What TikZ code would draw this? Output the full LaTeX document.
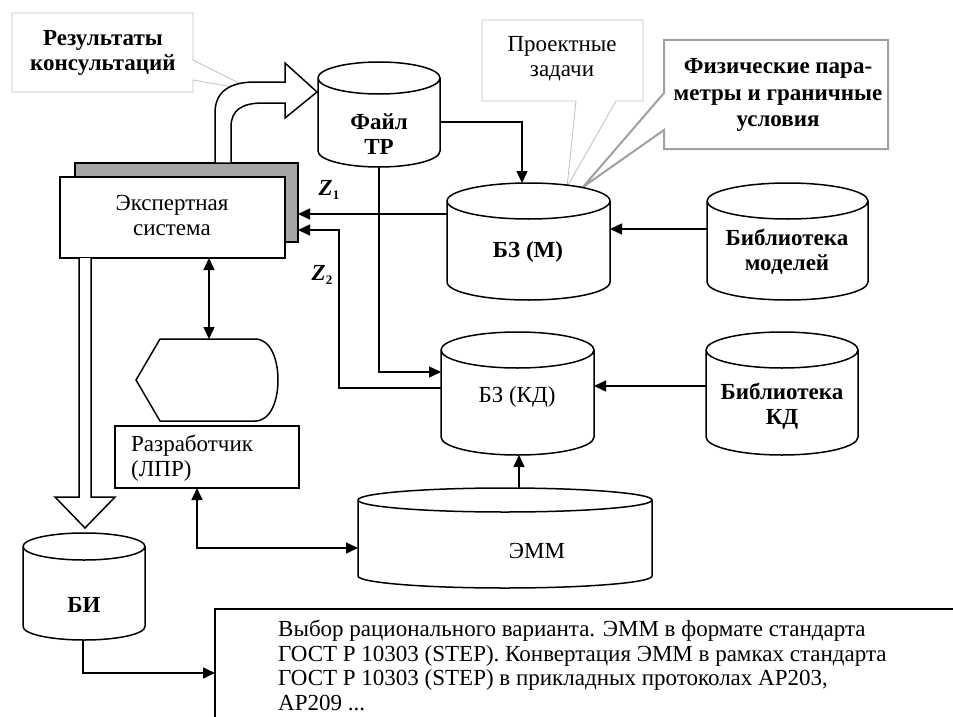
\documentclass[tikz,border=0pt]{standalone}
\usepackage{fontspec}
\setmainfont{Liberation Serif}
\usetikzlibrary{arrows.meta,calc}
\definecolor{shadowgray}{HTML}{A6A6A6}
\definecolor{calloutgray}{HTML}{BFBFBF}
\definecolor{calloutdark}{HTML}{A0A0A0}
\tikzset{
  ln/.style={line width=1.5pt},
  arr/.style={ln,-{Triangle[length=12pt,width=11pt]}},
  darr/.style={ln,{Triangle[length=12pt,width=11pt]}-{Triangle[length=12pt,width=11pt]}},
  region/.style={rectangle,inner sep=0pt,outer sep=0pt},
  f/.style={font=\fontsize{23}{25}\selectfont,align=center,inner sep=0pt},
  fb/.style={font=\fontsize{23}{25}\selectfont\bfseries,align=center,inner sep=0pt},
  ftxt/.style={font=\fontsize{23}{24.5}\selectfont,align=left,inner sep=0pt},
  cylline/.style={ln,fill=white},
  boxline/.style={ln,draw,fill=white,rectangle,inner sep=0pt,outer sep=0pt},
}
\newcommand\drawcyl[2]{%
  \draw[cylline] let \p1=(#1.north west), \p2=(#1.south east), \n1={(\x2-\x1)/2} in
    (\x1,{\y1-#2}) -- (\x1,{\y2+#2})
    arc[start angle=180,end angle=360,x radius=\n1,y radius=#2]
    -- (\x2,{\y1-#2})
    arc[start angle=0,end angle=360,x radius=\n1,y radius=#2];}
\begin{document}
\begin{tikzpicture}[x=1pt,y=-1pt]
\useasboundingbox (0,0) rectangle (953,717);

% helper coordinates
\coordinate (y122) at (0,122);
\coordinate (y214) at (0,214);
\coordinate (y229) at (0,229);
\coordinate (y230) at (0,230);
\coordinate (y372) at (0,372);
\coordinate (y386) at (0,386);
\coordinate (y388) at (0,388);
\coordinate (y548) at (0,548);
\coordinate (y673) at (0,673);
\coordinate (x83) at (83,0);
\coordinate (x197) at (197,0);
\coordinate (x209) at (209,0);
\coordinate (x339) at (339,0);
\coordinate (x519) at (519,0);
\coordinate (x522) at (522,0);

% callouts
\draw[calloutgray,line width=0.8pt,fill=white]
  (12,13) -- (193,13) -- (193,60) -- (255,91) -- (193,80) -- (193,92) -- (12,92) -- cycle;
\node[fb] (c1) at (103,53) {Результаты\\консультаций};

\draw[calloutgray,line width=0.8pt,fill=white]
  (482,20) -- (643,20) -- (643,101) -- (616,101) -- (567,187) -- (576,101) -- (482,101) -- cycle;
\node[f] (c2) at (562,59) {Проектные\\задачи};

\draw[calloutdark,line width=2pt,fill=white]
  (664,40) -- (888,40) -- (888,149) -- (664,149) -- (664,130) -- (583,187) -- (664,93) -- cycle;
\node[fb,font=\fontsize{23}{26.5}\selectfont\bfseries] (c3) at (778,95) {Физические пара-\\метры и граничные\\условия};

% cylinders
\node[region,minimum width=122pt,minimum height=105pt] (fr) at (379,114.5) {};
\drawcyl{fr}{16pt}
\node[fb] (frt) at (379,134) {Файл\\ТР};

\node[region,minimum width=163pt,minimum height=117pt] (bzm) at (528.5,241.5) {};
\drawcyl{bzm}{18pt}
\node[fb] (bzmt) at (528,252) {БЗ (М)};

\node[region,minimum width=161pt,minimum height=117pt] (libm) at (787.5,241.5) {};
\drawcyl{libm}{18pt}
\node[fb] (libmt) at (787,252) {Библиотека\\моделей};

\node[region,minimum width=153pt,minimum height=123pt] (bzkd) at (517.5,393.5) {};
\drawcyl{bzkd}{18pt}
\node[f] (bzkdt) at (517,397) {БЗ (КД)};

\node[region,minimum width=152pt,minimum height=123pt] (libkd) at (782,393.5) {};
\drawcyl{libkd}{18pt}
\node[fb] (libkdt) at (782,406) {Библиотека\\КД};

\node[region,minimum width=294pt,minimum height=100pt] (emm) at (505,538) {};
\drawcyl{emm}{12pt}
\node[f] (emmt) at (537,551) {ЭММ};

\node[region,minimum width=122pt,minimum height=107pt] (bi) at (84,586.5) {};
\drawcyl{bi}{13.5pt}
\node[fb] (bit) at (84,605) {БИ};

% expert system
\node[boxline,fill=shadowgray,minimum width=223pt,minimum height=79pt] (esh) at (186.5,202.5) {};
\node[boxline,minimum width=225pt,minimum height=81pt] (es) at (172.5,217.5) {};
\node[f] (est) at (172,215) {Экспертная\\система};

% curved hollow arrow
\draw[ln,fill=white]
  (215,163) -- (215,113) .. controls (215,90) and (232,82) .. (255,82)
  -- (285,82) -- (285,63) -- (317,92) -- (285,118) -- (285,103) -- (263,103)
  .. controls (242,103) and (231,110) .. (231,127) -- (231,163) -- cycle;

% developer
\node[boxline,minimum width=184pt,minimum height=62pt] (razr) at (207,457) {};
\node[f,align=left,anchor=west] (razrt) at (131,458) {Разработчик\\(ЛПР)};

% display shape
\node[region,minimum width=142pt,minimum height=82pt] (disp) at (207,380) {};
\draw[ln,fill=white]
  (136,380) -- (160,339) -- (255,339) .. controls (271,339) and (278,360) .. (278,380)
  .. controls (278,400) and (271,421) .. (255,421) -- (160,421) -- cycle;

% big hollow down arrow
\draw[ln,fill=white]
  (79,258) -- (79,497) -- (55,497) -- (85,528) -- (115,497) -- (91,497) -- (91,258);

% bottom text box
\node[region,anchor=north west,minimum width=760pt,minimum height=140pt,draw,ln] (tb) at (215,609) {};
\node[ftxt,anchor=north west] (tbt) at (278,620) {Выбор рационального варианта. ЭММ в формате стандарта\\ГОСТ Р 10303 (STEP). Конвертация ЭММ в рамках стандарта\\ГОСТ Р 10303 (STEP) в прикладных протоколах AP203,\\AP209 ...};

% Z labels
\node[inner sep=0pt,font=\fontsize{23}{25}\selectfont] (z1) at (329,190) {\textbf{\textit{Z}}\raisebox{-4pt}{\bfseries\fontsize{13}{13}\selectfont 1}};
\node[inner sep=0pt,font=\fontsize{23}{25}\selectfont] (z2) at (322,275) {\textbf{\textit{Z}}\raisebox{-4pt}{\bfseries\fontsize{13}{13}\selectfont 2}};

% connectors
\draw[arr] (fr.east |- y122) -| (x522 |- bzm.north);
\draw[arr] (fr.south) |- (bzkd.west |- y372);
\draw[arr] (bzm.west |- y214) -- (esh.east |- y214);
\draw[arr] (bzkd.west |- y388) -| (x339 |- y230) -- (esh.east |- y230);
\draw[arr] (libm.west |- y229) -- (bzm.east |- y229);
\draw[arr] (libkd.west |- y386) -- (bzkd.east |- y386);
\draw[arr] (x519 |- emm.north) -- (x519 |- bzkd.south);
\draw[darr] (x209 |- es.south) -- (x209 |- disp.north);
\draw[darr] (x197 |- razr.south) |- (emm.west |- y548);
\draw[arr] (x83 |- bi.south) |- (tb.west |- y673);
\end{tikzpicture}
\end{document}
